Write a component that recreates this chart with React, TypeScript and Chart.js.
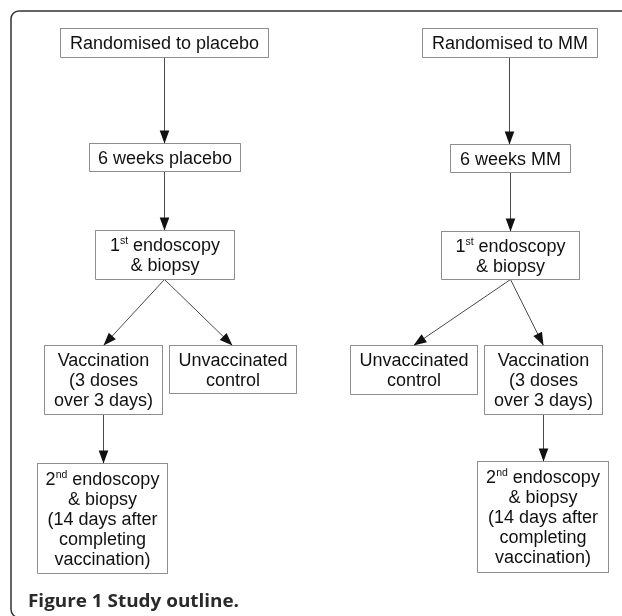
import { useEffect, useRef } from "react";
import { Chart, registerables } from "chart.js";

Chart.register(...registerables);

// ---- Flowchart content (text of each node) ----
const nodeText: string[][] = [
  ["Randomised to placebo"],
  ["6 weeks placebo"],
  ["1^{st} endoscopy", "& biopsy"],
  ["Vaccination", "(3 doses", "over 3 days)"],
  ["Unvaccinated", "control"],
  ["2^{nd} endoscopy", "& biopsy", "(14 days after", "completing", "vaccination)"],
  ["Randomised to MM"],
  ["6 weeks MM"],
  ["1^{st} endoscopy", "& biopsy"],
  ["Unvaccinated", "control"],
  ["Vaccination", "(3 doses", "over 3 days)"],
  ["2^{nd} endoscopy", "& biopsy", "(14 days after", "completing", "vaccination)"],
];

// ---- Node extents in chart units ----
const nodeLeft = [60, 89, 95, 44, 169, 37, 422, 450, 441, 350, 484, 477];
const nodeTop = [28, 143, 230, 345, 345, 463, 28, 144, 231, 345, 345, 461];
const nodeRight = [268, 240, 234, 162, 296, 167, 597, 570, 579, 477, 602, 608];
const nodeBottom = [57, 171, 279, 414, 393, 573, 57, 172, 279, 394, 414, 572];

// ---- Edges (source node -> target node) ----
const edgeFrom = [0, 1, 2, 2, 3, 6, 7, 8, 8, 10];
const edgeTo = [1, 2, 3, 4, 5, 7, 8, 9, 10, 11];

const caption = "Figure 1 Study outline.";

function edgePoints(i: number) {
  const s = edgeFrom[i];
  const t = edgeTo[i];
  const sx = Math.floor((nodeLeft[s] + nodeRight[s]) / 2);
  const tx0 = Math.floor((nodeLeft[t] + nodeRight[t]) / 2);
  const tx = Math.abs(sx - tx0) < 10 ? sx : tx0;
  return { x1: sx, y1: nodeBottom[s], x2: tx, y2: nodeTop[t] };
}

type Seg = { text: string; sup: boolean };
function parseLine(line: string): Seg[] {
  const out: Seg[] = [];
  const re = /\^\{([^}]*)\}/g;
  let last = 0;
  let m: RegExpExecArray | null;
  while ((m = re.exec(line))) {
    if (m.index > last) out.push({ text: line.slice(last, m.index), sup: false });
    out.push({ text: m[1], sup: true });
    last = m.index + m[0].length;
  }
  if (last < line.length) out.push({ text: line.slice(last), sup: false });
  return out;
}

const MAIN_FONT = '18px "Liberation Sans", Arial, sans-serif';
const SUP_FONT = '10.5px "Liberation Sans", Arial, sans-serif';

const flowPlugin = {
  id: "flowDecor",
  afterDatasetsDraw(chart: any) {
    const ctx: CanvasRenderingContext2D = chart.ctx;
    const xs = chart.scales.x;
    const ys = chart.scales.y;
    const px = (v: number) => xs.getPixelForValue(v);
    const py = (v: number) => ys.getPixelForValue(v);

    ctx.save();
    // arrow heads
    ctx.fillStyle = "#111";
    for (let i = 0; i < edgeFrom.length; i++) {
      const e = edgePoints(i);
      const X1 = px(e.x1), Y1 = py(e.y1), X2 = px(e.x2), Y2 = py(e.y2);
      const dx = X2 - X1, dy = Y2 - Y1;
      const len = Math.hypot(dx, dy);
      const ux = dx / len, uy = dy / len;
      const L = 13, W = 4.8;
      const bx = X2 - ux * L, by = Y2 - uy * L;
      ctx.beginPath();
      ctx.moveTo(X2, Y2);
      ctx.lineTo(bx - uy * W, by + ux * W);
      ctx.lineTo(bx + uy * W, by - ux * W);
      ctx.closePath();
      ctx.fill();
    }

    // node text
    ctx.fillStyle = "#111";
    ctx.textBaseline = "alphabetic";
    ctx.textAlign = "left";
    for (let i = 0; i < nodeText.length; i++) {
      const lines = nodeText[i];
      const cx = px((nodeLeft[i] + nodeRight[i]) / 2);
      const cy = py((nodeTop[i] + nodeBottom[i]) / 2);
      const n = lines.length;
      lines.forEach((line, k) => {
        const base = cy + 6 + (k - (n - 1) / 2) * 20;
        const segs = parseLine(line);
        let total = 0;
        const widths = segs.map((s) => {
          ctx.font = s.sup ? SUP_FONT : MAIN_FONT;
          const w = ctx.measureText(s.text).width;
          total += w;
          return w;
        });
        let x = cx - total / 2;
        segs.forEach((s, j) => {
          ctx.font = s.sup ? SUP_FONT : MAIN_FONT;
          ctx.fillText(s.text, x, s.sup ? base - 7 : base);
          x += widths[j];
        });
      });
    }

    // outer frame (rounded, open to the right and bottom)
    ctx.strokeStyle = "#333";
    ctx.lineWidth = 1.5;
    ctx.beginPath();
    const fl = px(11) - 0.5, ft = py(11) - 0.5;
    ctx.moveTo(chart.width + 2, ft);
    ctx.lineTo(fl + 8, ft);
    ctx.arcTo(fl, ft, fl, ft + 8, 8);
    ctx.lineTo(fl, py(609));
    ctx.arcTo(fl, py(617), fl + 8, py(617), 8);
    ctx.lineTo(fl + 20, py(617));
    ctx.stroke();

    // caption
    ctx.fillStyle = "#2a2a2a";
    ctx.font = 'bold 18px "Open Sans", sans-serif';
    const cw = ctx.measureText(caption).width;
    const target = 211;
    ctx.save();
    ctx.translate(px(28) - 0.5, py(606));
    ctx.scale(target / cw, 1);
    ctx.fillText(caption, 0, 0);
    ctx.restore();

    ctx.restore();
  },
};

export default function App() {
  const ref = useRef<HTMLCanvasElement>(null);

  useEffect(() => {
    const canvas = ref.current;
    if (!canvas) return;
    const datasets: any[] = [];
    for (let i = 0; i < nodeText.length; i++) {
      const L = nodeLeft[i], T = nodeTop[i], R = nodeRight[i], B = nodeBottom[i];
      datasets.push({
        label: "node" + i,
        data: [
          { x: L, y: T },
          { x: R, y: T },
          { x: R, y: B },
          { x: L, y: B },
          { x: L, y: T },
        ],
        showLine: true,
        borderColor: "#8e8e8e",
        borderWidth: 1,
        borderCapStyle: "square",
        borderJoinStyle: "miter",
        pointRadius: 0,
        fill: false,
        tension: 0,
      });
    }
    for (let i = 0; i < edgeFrom.length; i++) {
      const e = edgePoints(i);
      datasets.push({
        label: "edge" + i,
        data: [
          { x: e.x1, y: e.y1 },
          { x: e.x2, y: e.y2 },
        ],
        showLine: true,
        borderColor: "#4a4a4a",
        borderWidth: 1,
        pointRadius: 0,
        fill: false,
        tension: 0,
      });
    }

    const chart = new Chart(canvas, {
      type: "scatter",
      data: { datasets },
      options: {
        animation: false,
        responsive: false,
        maintainAspectRatio: false,
        events: [],
        layout: { padding: 0 },
        scales: {
          x: { type: "linear", min: -0.5, max: 621.5, display: false },
          y: { type: "linear", min: -0.5, max: 615.5, reverse: true, display: false },
        },
        plugins: {
          legend: { display: false },
          tooltip: { enabled: false },
          title: { display: false },
        },
      } as any,
      plugins: [flowPlugin],
    });
    return () => chart.destroy();
  }, []);

  return (
    <div
      style={{
        position: "fixed",
        left: 0,
        top: 0,
        width: 622,
        height: 616,
        background: "#fff",
      }}
    >
      <canvas ref={ref} width={622} height={616} style={{ display: "block" }} />
    </div>
  );
}
